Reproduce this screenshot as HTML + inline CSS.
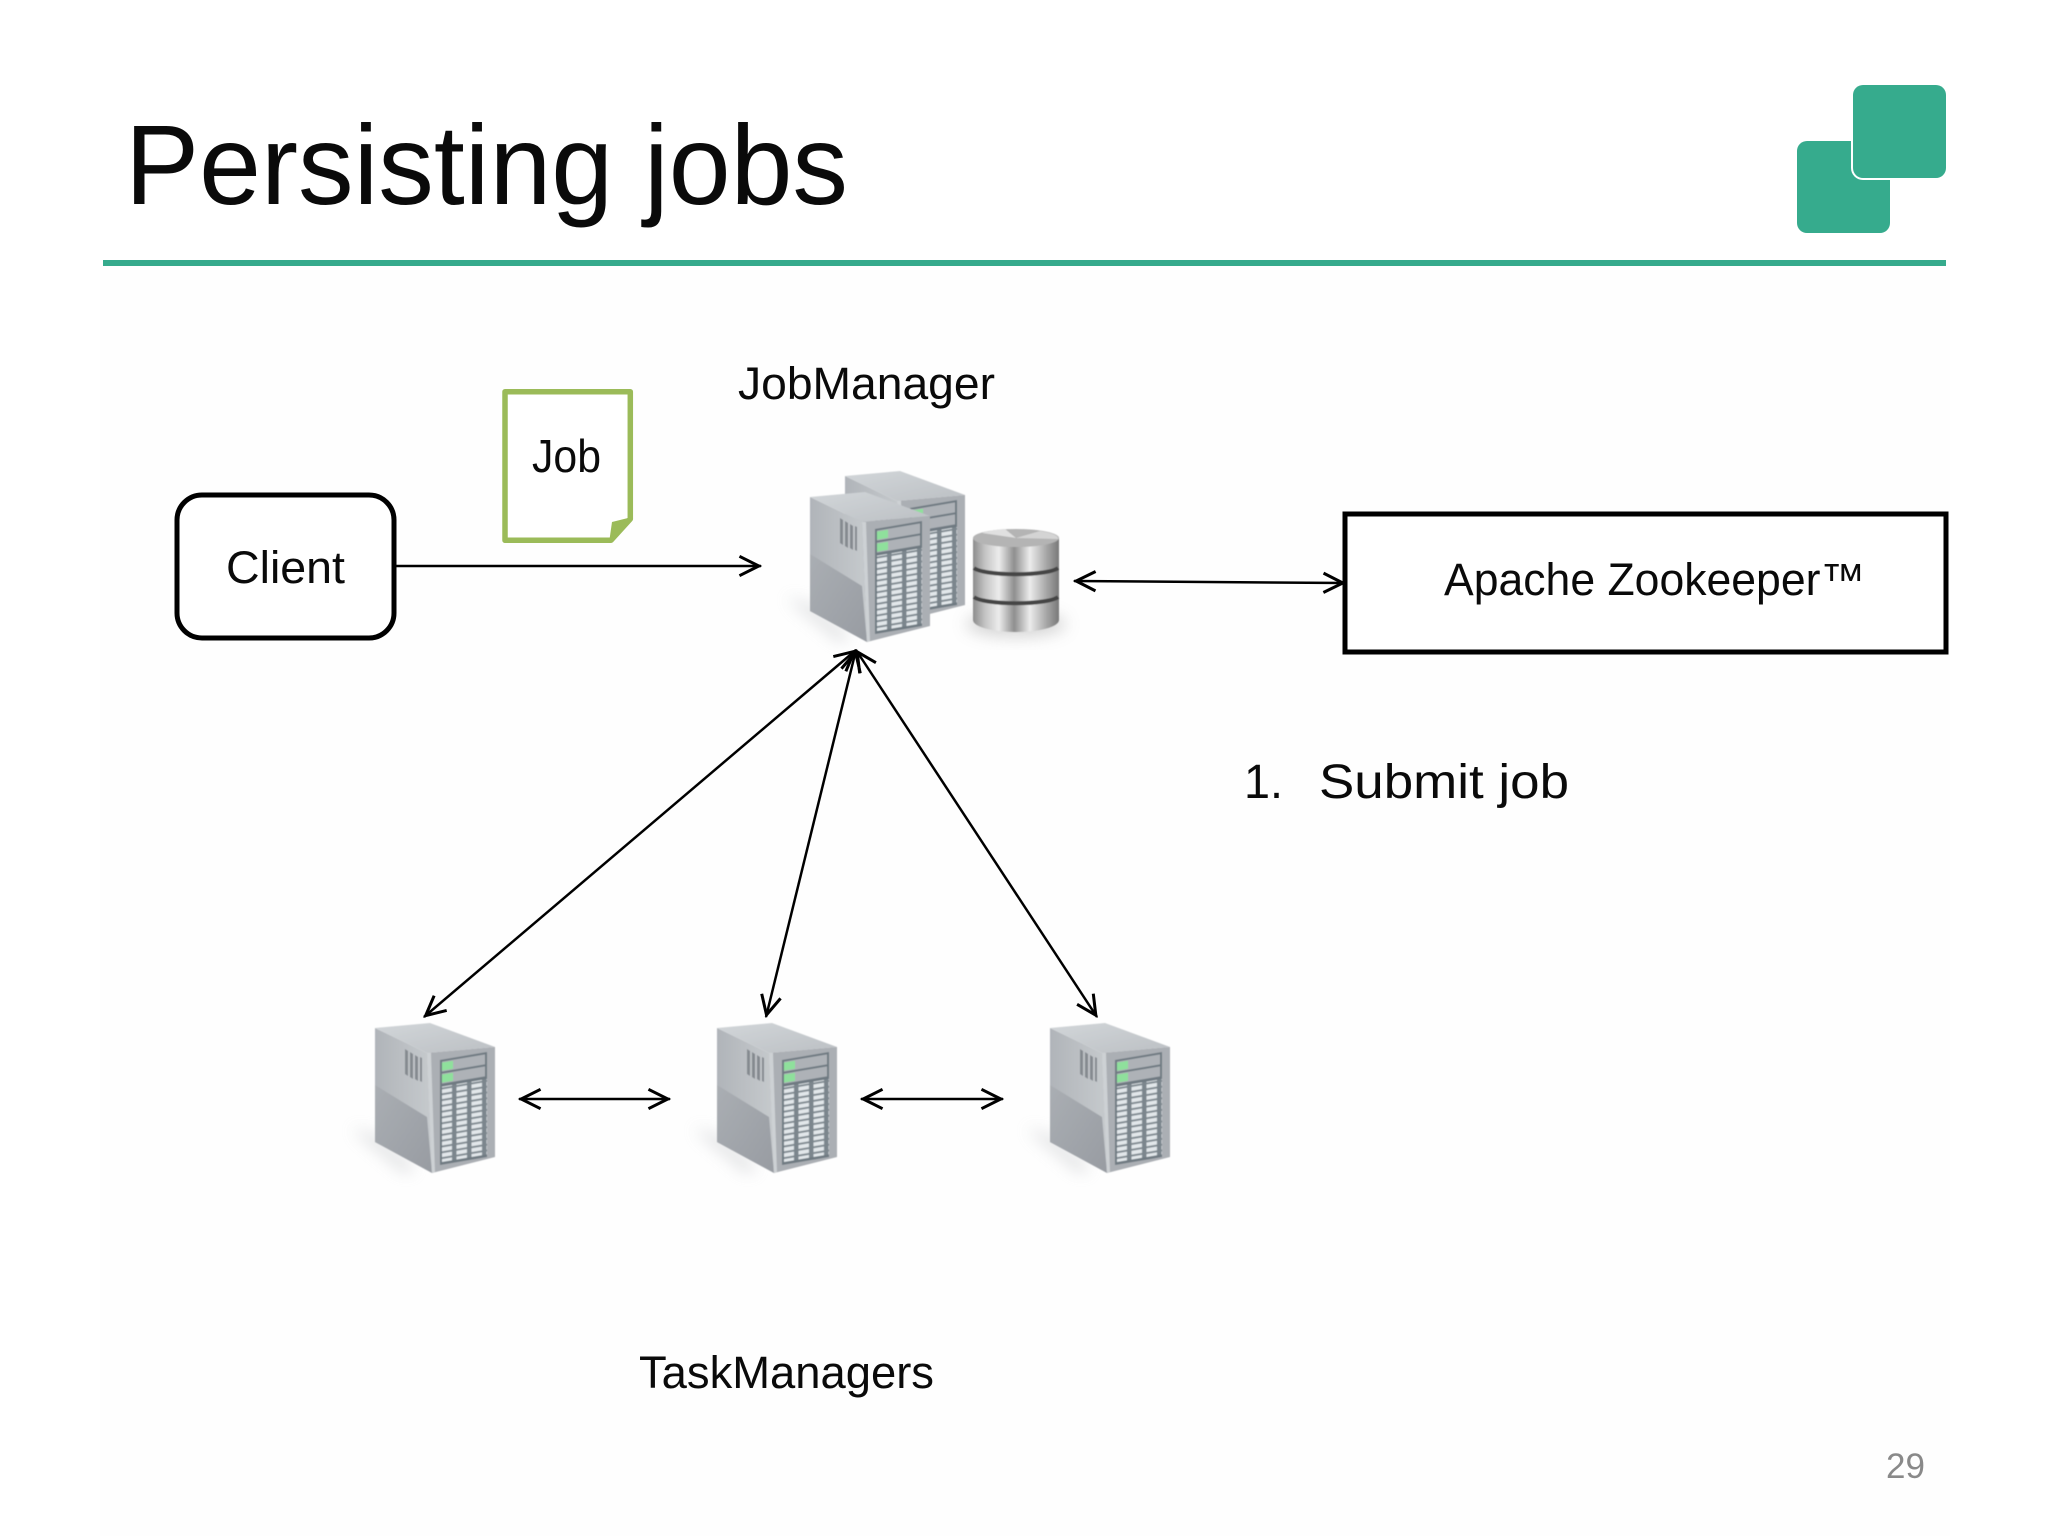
<!DOCTYPE html>
<html><head><meta charset="utf-8"><title>Persisting jobs</title>
<style>html,body{margin:0;padding:0;background:#fff;width:2048px;height:1536px;overflow:hidden}svg{display:block}text{font-family:"Liberation Sans",sans-serif;fill:#0a0a0a}</style></head>
<body>
<svg width="2048" height="1536" viewBox="0 0 2048 1536" xmlns="http://www.w3.org/2000/svg">
<defs>
<marker id="a" markerUnits="userSpaceOnUse" markerWidth="28" markerHeight="28" refX="24" refY="12" viewBox="0 0 26 24" orient="auto-start-reverse"><path d="M4 3 L22 12 L4 21" fill="none" stroke="#000" stroke-width="2.800"/></marker>
<linearGradient id="lf" x1="0" y1="0" x2="1" y2="0"><stop offset="0" stop-color="#b0b4b9"/><stop offset="1" stop-color="#c6cacd"/></linearGradient>
<linearGradient id="ld" x1="0" y1="0" x2="1" y2="1"><stop offset="0" stop-color="#aaaeb3"/><stop offset="1" stop-color="#989ca2"/></linearGradient>
<linearGradient id="tp" x1="0" y1="0" x2="1" y2="1"><stop offset="0" stop-color="#d2d6d9"/><stop offset="1" stop-color="#bcc0c4"/></linearGradient>
<linearGradient id="m" x1="0" y1="0" x2="1" y2="0"><stop offset="0" stop-color="#8c8c8c"/><stop offset=".14" stop-color="#c4c4c4"/><stop offset=".3" stop-color="#ececec"/><stop offset=".48" stop-color="#8e8e8e"/><stop offset=".66" stop-color="#ececec"/><stop offset=".85" stop-color="#a8a8a8"/><stop offset="1" stop-color="#787878"/></linearGradient>
<filter id="b" x="-50%" y="-50%" width="200%" height="200%"><feGaussianBlur stdDeviation="8"/></filter>
<filter id="s"><feGaussianBlur stdDeviation=".6"/></filter>
<pattern id="dr" x="0" y="0" width="15" height="5.8" patternUnits="userSpaceOnUse"><rect width="15" height="5.8" fill="#7c868d"/><rect x="1.500" y=".8" width="10.500" height="3.900" fill="#e2e7ea"/></pattern>
<g id="srv">
<polygon points="-24,105 0,112 40,145 30,150" fill="#a8acb0" opacity=".4" filter="url(#b)"/>
<g filter="url(#s)">
<polygon points="0,5 52,30 57,150 0,119" fill="url(#lf)"/>
<polygon points="0,62 52,94 57,150 0,119" fill="url(#ld)"/>
<polygon points="0,5 55,0 120,24 52,30" fill="url(#tp)"/>
<polygon points="52,30 120,24 120,134 57,150" fill="#abafb4"/>
<polygon points="52,30 56,30 60,149 57,150" fill="#cdd1d4"/>
<g fill="#858a90"><polygon points="30,26 33,28 33,53 30,51"/><polygon points="35,29 38,31 38,56 35,54"/><polygon points="40,32 43,34 43,58 40,56"/><polygon points="45,34 47,35 47,59 45,58"/></g>
<g transform="matrix(1,-.17,0,1,65,37)">
<rect x="0" y="0" width="47" height="105" fill="#6f7a82"/>
<rect x="2" y="2" width="43" height="10" fill="#aeb2b7"/>
<rect x="2" y="14" width="43" height="10" fill="#aeb2b7"/>
<rect x="2" y="3" width="11" height="8" fill="#8fe09c"/>
<rect x="2" y="15" width="11" height="8" fill="#8fe09c"/>
<rect x="2" y="27" width="45" height="75.400" fill="url(#dr)"/>
</g>
</g>
</g>
</defs>

<rect width="2048" height="1536" fill="#fff"/>
<rect x="100" y="270" width="1850" height="1266" fill="#fefefe"/>

<text x="125" y="204" font-size="113" textLength="723" lengthAdjust="spacingAndGlyphs">Persisting jobs</text>
<rect x="103" y="260" width="1843" height="6" fill="#36ab8d"/>
<rect x="1797" y="141" width="93" height="92" rx="10" fill="#36ab8d"/>
<rect x="1851" y="83" width="97" height="97" rx="12" fill="#fff"/>
<rect x="1853" y="85" width="93" height="93" rx="10" fill="#36ab8d"/>

<rect x="177" y="495" width="217" height="143" rx="25" fill="#fff" stroke="#000" stroke-width="5"/>
<text x="226" y="583" font-size="45" textLength="119" lengthAdjust="spacingAndGlyphs">Client</text>

<path d="M505 391.700H630.300V519L611 540.300 H505Z" fill="#fff" stroke="#9bbb59" stroke-width="5.500" stroke-linejoin="round"/>
<path d="M612 522 L632 517 L609 543 Z" fill="#9bbb59"/>
<text x="532" y="472" font-size="46" textLength="69" lengthAdjust="spacingAndGlyphs">Job</text>

<text x="738" y="399" font-size="45" textLength="257" lengthAdjust="spacingAndGlyphs">JobManager</text>

<rect x="1345" y="514" width="601" height="138" fill="#fff" stroke="#000" stroke-width="5"/>
<text x="1444" y="595" font-size="45" textLength="421" lengthAdjust="spacingAndGlyphs">Apache Zookeeper™</text>

<text x="1244" y="798" font-size="48" textLength="39" lengthAdjust="spacingAndGlyphs">1.</text>
<text x="1319" y="798" font-size="48" textLength="250" lengthAdjust="spacingAndGlyphs">Submit job</text>
<text x="639" y="1388" font-size="45" textLength="295" lengthAdjust="spacingAndGlyphs">TaskManagers</text>
<text x="1886" y="1478" font-size="35" style="fill:#898989" textLength="39">29</text>

<use href="#srv" x="845" y="471"/>
<use href="#srv" x="810" y="492"/>

<ellipse cx="1016" cy="624" rx="50" ry="13" fill="#999" opacity=".4" filter="url(#b)"/>
<g filter="url(#s)">
<path d="M973 538 V620 A43 12 0 0 0 1059 620 V538Z" fill="url(#m)"/>
<ellipse cx="1016" cy="538" rx="43" ry="9" fill="#b4b4b4"/>
<path d="M1016 538 L982 533 A43 9 0 0 1 1005 529Z" fill="#e0e0e0"/>
<path d="M1016 538 L1040 531 A43 9 0 0 1 1058 539Z" fill="#d4d4d4"/>
<path d="M974 568 A43 8 0 0 0 1058 568" fill="none" stroke="#444" stroke-width="4"/>
<path d="M974 597 A43 8 0 0 0 1058 597" fill="none" stroke="#444" stroke-width="4"/>
</g>

<use href="#srv" x="375" y="1023"/>
<use href="#srv" x="717" y="1023"/>
<use href="#srv" x="1050" y="1023"/>

<g fill="none" stroke="#000" stroke-width="2.500">
<line x1="394" y1="566" x2="761" y2="566" marker-end="url(#a)"/>
<line x1="1074" y1="581" x2="1345" y2="583" marker-start="url(#a)" marker-end="url(#a)"/>
<line x1="856" y1="650" x2="424" y2="1017" marker-start="url(#a)" marker-end="url(#a)"/>
<line x1="856" y1="650" x2="766" y2="1017" marker-start="url(#a)" marker-end="url(#a)"/>
<line x1="856" y1="650" x2="1097" y2="1017" marker-start="url(#a)" marker-end="url(#a)"/>
<line x1="519" y1="1099" x2="670" y2="1099" marker-start="url(#a)" marker-end="url(#a)"/>
<line x1="861" y1="1099" x2="1003" y2="1099" marker-start="url(#a)" marker-end="url(#a)"/>
</g>
</svg>
</body></html>
